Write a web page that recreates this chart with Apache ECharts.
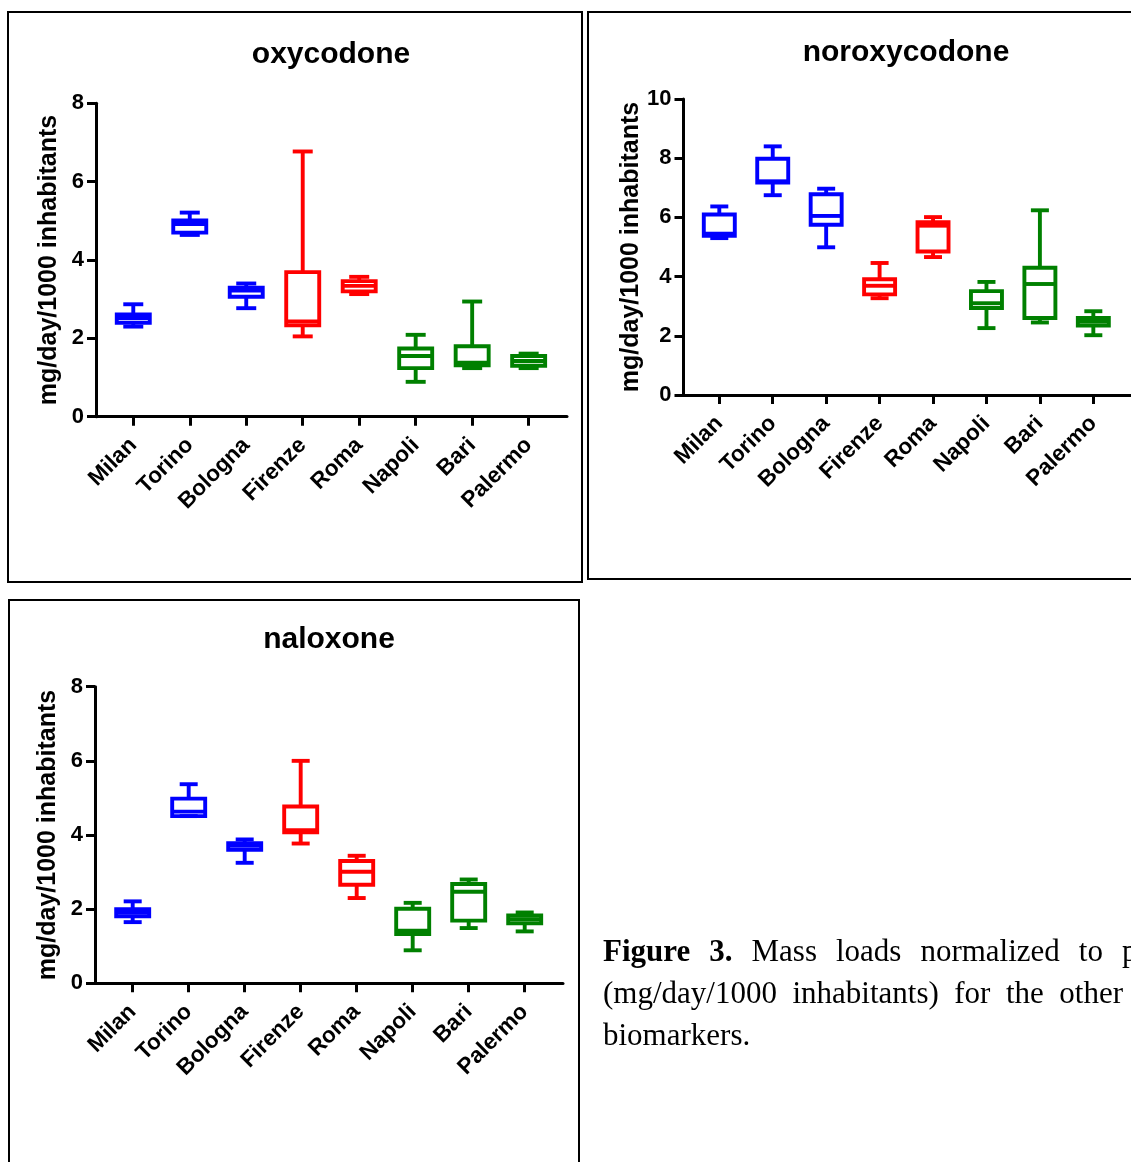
<!DOCTYPE html>
<html><head><meta charset="utf-8">
<script src="https://cdn.jsdelivr.net/npm/echarts@6/dist/echarts.min.js"></script>
<style>
html,body{margin:0;padding:0;width:1131px;height:1162px;overflow:hidden;background:#fff}
#chart{position:absolute;left:0;top:0;width:1131px;height:1162px}
#caption{position:absolute;left:603px;top:930px;font-family:"Liberation Serif","Times New Roman",serif;font-size:31px;line-height:42px;color:#000;white-space:nowrap}
#caption .ln{display:flex;gap:17px}
#caption .l1{gap:19px}
#caption .l2{gap:15.5px}
</style></head><body>
<div id="chart"></div>
<div id="caption">
 <div class="ln l1"><b>Figure</b><b>3.</b><span>Mass</span><span>loads</span><span>normalized</span><span>to</span><span>population</span></div>
 <div class="ln l2"><span>(mg/day/1000</span><span>inhabitants)</span><span>for</span><span>the</span><span>other</span></div>
 <div class="ln"><span>biomarkers.</span></div>
</div>
<script>
// ---- data ----
const cities = ['Milan','Torino','Bologna','Firenze','Roma','Napoli','Bari','Palermo'];
const cityColors = ['#0000ff','#0000ff','#0000ff','#ff0000','#ff0000','#008000','#008000','#008000'];
const yAxisName = 'mg/day/1000 inhabitants';
// each row: [min, Q1, median, Q3, max]
const oxycodone = [
  [2.30, 2.40, 2.52, 2.61, 2.87],
  [4.64, 4.70, 4.92, 5.01, 5.21],
  [2.77, 3.06, 3.22, 3.29, 3.40],
  [2.05, 2.33, 2.43, 3.69, 6.77],
  [3.13, 3.20, 3.34, 3.46, 3.57],
  [0.89, 1.24, 1.55, 1.74, 2.09],
  [1.24, 1.31, 1.38, 1.80, 2.94],
  [1.24, 1.30, 1.42, 1.55, 1.61]
];
const noroxycodone = [
  [5.30, 5.38, 5.45, 6.10, 6.37],
  [6.75, 7.18, 7.22, 7.98, 8.40],
  [4.99, 5.75, 6.05, 6.78, 6.97],
  [3.27, 3.40, 3.69, 3.91, 4.46],
  [4.66, 4.85, 5.72, 5.84, 6.01],
  [2.26, 2.94, 3.10, 3.51, 3.82],
  [2.45, 2.60, 3.75, 4.30, 6.24],
  [2.02, 2.35, 2.48, 2.60, 2.83]
];
const naloxone = [
  [1.65, 1.81, 1.91, 2.00, 2.21],
  [4.51, 4.51, 4.63, 4.98, 5.37],
  [3.25, 3.60, 3.71, 3.78, 3.88],
  [3.77, 4.07, 4.13, 4.77, 6.00],
  [2.30, 2.66, 3.01, 3.30, 3.44],
  [0.89, 1.33, 1.42, 2.01, 2.17],
  [1.49, 1.69, 2.47, 2.68, 2.80],
  [1.40, 1.62, 1.73, 1.83, 1.91]
];
const titles = ['oxycodone', 'noroxycodone', 'naloxone'];
const yMaxes = [8, 10, 8];
const yInterval = 2;

// ---- layout ----
const FONT = '"Liberation Sans", Arial, sans-serif';
const layouts = [
  {grid:{left:96, top:103.3, width:471, height:313.4}, xMin:-0.660, xMax:7.679, boxW:33, capW:20, tx:331, ty:55},
  {grid:{left:683.5, top:99, width:447.5, height:296}, xMin:-0.670, xMax:7.705, boxW:31, capW:18, tx:906, ty:53},
  {grid:{left:95, top:686.7, width:468, height:296.6}, xMin:-0.673, xMax:7.684, boxW:33, capW:18, tx:329, ty:640}
];
const datasets = [oxycodone, noroxycodone, naloxone];
const catIdx = cities.map((c, i) => i);

function makeRender(boxW, capW) {
  return function (params, api) {
    const i = api.value(0);
    const c = api.visual('color');
    const pMin = api.coord([i, api.value(1)]);
    const pQ1 = api.coord([i, api.value(2)]);
    const pMed = api.coord([i, api.value(3)]);
    const pQ3 = api.coord([i, api.value(4)]);
    const pMax = api.coord([i, api.value(5)]);
    const x = pMin[0];
    const st = () => ({stroke: c, lineWidth: 3.9, fill: 'none', lineJoin: 'miter', lineCap: 'butt'});
    const hl = (y, w) => ({type: 'line', shape: {x1: x - w / 2, y1: y, x2: x + w / 2, y2: y}, style: st()});
    return {type: 'group', children: [
      {type: 'line', shape: {x1: x, y1: pMax[1], x2: x, y2: pQ3[1]}, style: st()},
      {type: 'line', shape: {x1: x, y1: pQ1[1], x2: x, y2: pMin[1]}, style: st()},
      hl(pMax[1], capW), hl(pMin[1], capW),
      {type: 'rect', shape: {x: x - boxW / 2, y: pQ3[1], width: boxW, height: pQ1[1] - pQ3[1]}, style: st()},
      hl(pMed[1], boxW)
    ]};
  };
}

const grids = [], xAxes = [], yAxes = [], series = [];
layouts.forEach((L, k) => {
  grids.push(Object.assign({outerBoundsMode: 'none', containLabel: false}, L.grid));
  xAxes.push({
    gridIndex: k, type: 'value', min: L.xMin, max: L.xMax, splitLine: {show: false},
    axisLine: {show: true, onZero: false, lineStyle: {color: '#000', width: 3}},
    axisTick: {show: true, customValues: catIdx, length: 9, lineStyle: {color: '#000', width: 3}},
    axisLabel: {customValues: catIdx, formatter: v => cities[Math.round(v)], rotate: 45, margin: 25,
      color: '#000', fontWeight: 'bold', fontSize: 22.5, fontFamily: FONT}
  });
  yAxes.push({
    gridIndex: k, type: 'value', min: 0, max: yMaxes[k], interval: yInterval, splitLine: {show: false},
    axisLine: {show: true, onZero: false, lineStyle: {color: '#000', width: 3}},
    axisTick: {show: true, length: 9, lineStyle: {color: '#000', width: 3}},
    axisLabel: {margin: 12, color: '#000', fontWeight: 'bold', fontSize: 22, fontFamily: FONT},
    name: yAxisName, nameLocation: 'middle', nameGap: 34, nameRotate: 90,
    nameTextStyle: {fontWeight: 'bold', fontSize: 25, color: '#000', fontFamily: FONT}
  });
  series.push({
    type: 'custom', xAxisIndex: k, yAxisIndex: k, clip: false,
    renderItem: makeRender(L.boxW, L.capW),
    encode: {x: 0, y: [1, 2, 3, 4, 5]},
    data: datasets[k].map((d, i) => ({value: [i].concat(d), itemStyle: {color: cityColors[i]}}))
  });
});

const border = {fill: 'none', stroke: '#000', lineWidth: 2};
const graphic = [
  {type: 'rect', shape: {x: 8, y: 12, width: 574, height: 570}, style: border},
  {type: 'rect', shape: {x: 588, y: 12, width: 600, height: 567}, style: border},
  {type: 'rect', shape: {x: 9, y: 600, width: 570, height: 620}, style: border}
];
layouts.forEach((L, k) => {
  graphic.push({type: 'text', x: L.tx, y: L.ty, style: {text: titles[k], align: 'center', verticalAlign: 'middle',
    font: 'bold 30px ' + FONT, fill: '#000'}});
});

const chart = echarts.init(document.getElementById('chart'), null, {renderer: 'canvas'});
chart.setOption({
  animation: false,
  backgroundColor: '#fff',
  grid: grids, xAxis: xAxes, yAxis: yAxes, series: series, graphic: graphic
});
</script>
</body></html>
